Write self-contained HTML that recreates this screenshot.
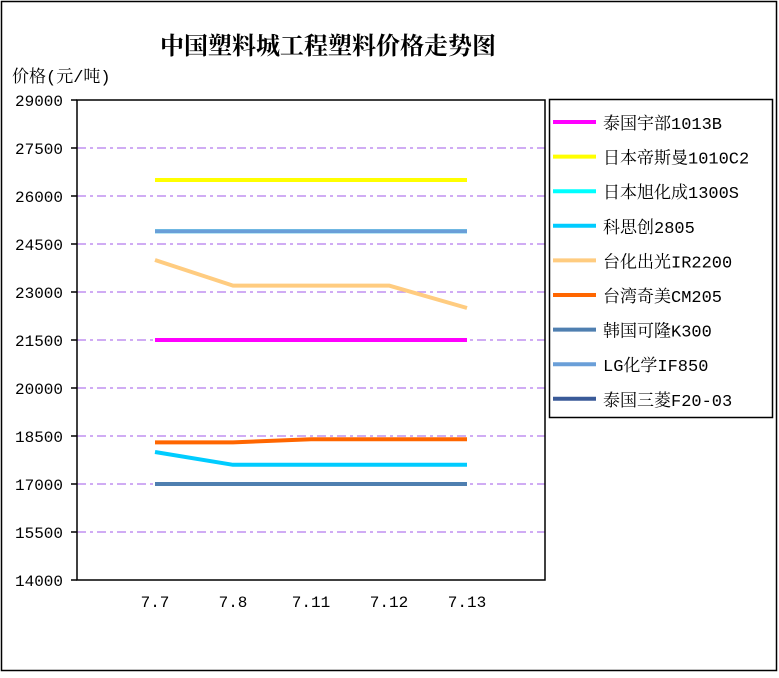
<!DOCTYPE html>
<html><head><meta charset="utf-8"><style>
body{margin:0;background:#fff}
svg text{font-family:"Liberation Mono","Noto Serif CJK SC",serif}
</style></head><body>
<svg width="779" height="673" xmlns="http://www.w3.org/2000/svg">
<rect x="1.5" y="1.5" width="775" height="669" fill="#fff" stroke="#000" stroke-width="1.5"/>
<text x="328" y="54" text-anchor="middle" font-size="24" font-weight="bold">中国塑料城工程塑料价格走势图</text>
<text x="12" y="82" font-size="17">价格(元/吨)</text>
<g id="grid"></g>
<rect x="77" y="100" width="468" height="480" fill="none" stroke="#000" stroke-width="1.5"/>
<g id="axes"></g>
<g id="series"></g>
<rect x="549.5" y="99.5" width="223" height="318" fill="#fff" stroke="#000" stroke-width="1.5"/>
<g id="legend"></g>
</svg>
<script>
const categories=["7.7","7.8","7.11","7.12","7.13"];
const yTicks=[14000,15500,17000,18500,20000,21500,23000,24500,26000,27500,29000];
const names=["泰国宇部1013B","日本帝斯曼1010C2","日本旭化成1300S","科思创2805","台化出光IR2200","台湾奇美CM205","韩国可隆K300","LG化学IF850","泰国三菱F20-03"];
const colors=["#ff00ff","#ffff00","#00ffff","#00ccff","#ffcc80","#ff6600","#4f7fb0","#6a9fd8","#3a5a98"];
const s0=[21500,21500,21500,21500,21500];
const s1=[26500,26500,26500,26500,26500];
const s2=[24900,24900,24900,24900,24900];
const s3=[18000,17600,17600,17600,17600];
const s4=[24000,23200,23200,23200,22500];
const s5=[18300,18300,18400,18400,18400];
const s6=[17000,17000,17000,17000,17000];
const s7=[24900,24900,24900,24900,24900];
const s8=[17000,17000,17000,17000,17000];
const series=[s0,s1,s2,s3,s4,s5,s6,s7,s8];
const drawOrder=[8,2,6,7,1,0,4,5,3];
const NS="http://www.w3.org/2000/svg";
const yMin=14000,yMax=29000,plotTop=100,plotBot=580,plotLeft=77,plotRight=545;
const yS=v=>plotBot-(v-yMin)/(yMax-yMin)*(plotBot-plotTop);
const stepX=(plotRight-plotLeft)/(categories.length+1);
const xS=i=>plotLeft+stepX*(i+1);
function mk(t,a,p){const e=document.createElementNS(NS,t);for(const k in a)e.setAttribute(k,a[k]);p.appendChild(e);return e;}
const grid=document.getElementById('grid'),axes=document.getElementById('axes'),ser=document.getElementById('series'),leg=document.getElementById('legend');
yTicks.forEach(v=>{
 if(v!==yMin&&v!==yMax){const g=mk('line',{x1:plotLeft,x2:plotRight,y1:yS(v),y2:yS(v),stroke:'#c090f0','stroke-width':1.5,'stroke-dasharray':'9 4 3 4'},grid);
 
 }
 const tk=mk('line',{x1:plotLeft-6,x2:plotLeft,y1:yS(v),y2:yS(v),stroke:'#000','stroke-width':1.5},axes);
 
 
 const t=mk('text',{x:plotLeft-14,y:yS(v)+6,'text-anchor':'end','font-size':16},axes);t.textContent=v;
 
 
});
categories.forEach((c,i)=>{
 const t=mk('text',{x:xS(i),y:607,'text-anchor':'middle','font-size':16},axes);t.textContent=c;
 
 
});
drawOrder.forEach(k=>{
 const p=mk('polyline',{points:series[k].map((v,i)=>xS(i)+','+yS(v)).join(' '),fill:'none',stroke:colors[k],'stroke-width':4,'stroke-linejoin':'round'},ser);
 
 
});
names.forEach((n,i)=>{
 const yy=122+i*34.6;
 const l=mk('line',{x1:553,x2:596,y1:yy,y2:yy,stroke:colors[i],'stroke-width':4},leg);
 
 
 const t=mk('text',{x:603,y:yy+7,'font-size':17},leg);t.textContent=n;
 
 
});
</script>
</body></html>
